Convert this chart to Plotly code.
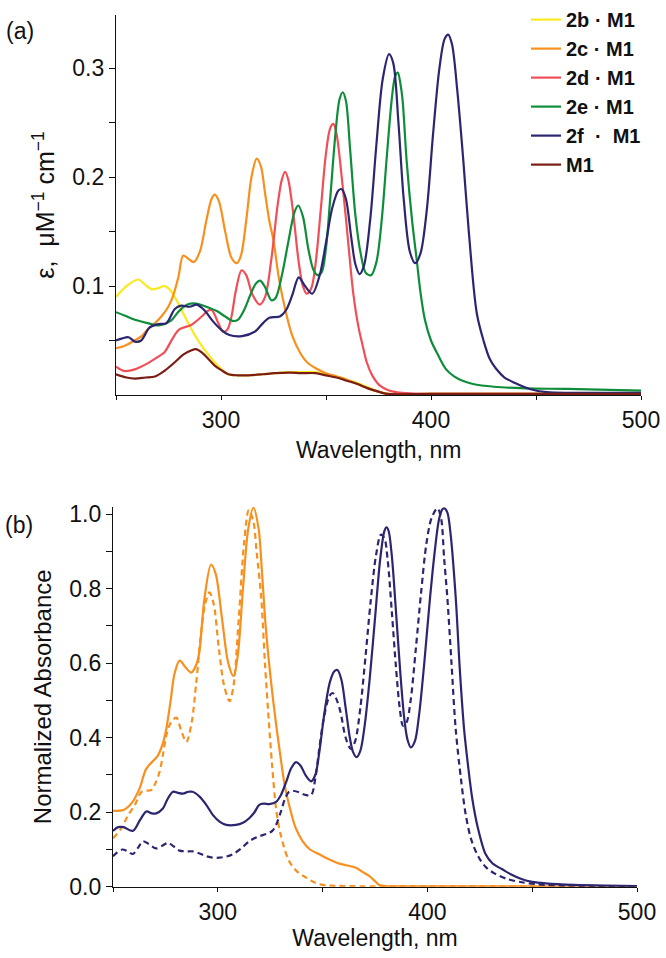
import plotly.graph_objects as go

# ---------------- Panel (a): molar absorptivity ----------------
wl_2b = [250, 255, 260.6, 264, 267, 270, 273.3, 276, 278, 281, 284.4, 287.5, 290.8, 294, 297, 300, 303.5,
         308, 313, 320, 325.6, 333, 338, 345, 350, 355, 360, 365, 370, 375, 380, 400, 500]
eps_2b = [0.090, 0.100, 0.106, 0.101, 0.097, 0.098, 0.100, 0.096, 0.090, 0.079, 0.066, 0.055, 0.045, 0.037,
          0.030, 0.024, 0.019, 0.018, 0.018, 0.019, 0.020, 0.021, 0.021, 0.021, 0.019, 0.017, 0.014, 0.011,
          0.007, 0.003, 0.001, 0.001, 0.001]

wl_2c = [250, 254, 258, 262.2, 265, 268.6, 272, 274.9, 277, 279.7, 282, 284.5, 287, 290, 293, 295.5, 297,
         299, 302, 305, 307.5, 309.5, 312, 314.5, 317, 319, 321, 323, 325, 327.5, 331, 334, 337.6, 341,
         345.5, 350, 355, 360, 365, 370, 375, 380, 400, 500]
eps_2c = [0.043, 0.045, 0.049, 0.054, 0.060, 0.066, 0.073, 0.081, 0.090, 0.108, 0.128, 0.125, 0.122, 0.132,
          0.160, 0.180, 0.184, 0.178, 0.150, 0.126, 0.121, 0.128, 0.160, 0.200, 0.217, 0.210, 0.185, 0.160,
          0.142, 0.108, 0.075, 0.054, 0.039, 0.030, 0.024, 0.020, 0.017, 0.014, 0.010, 0.006, 0.003, 0.001,
          0.001, 0.001]

wl_2d = [250, 254, 259, 265, 270, 273, 277, 280, 286, 290.8, 293.5, 295.6, 298.7, 301, 303, 305, 307, 309.8,
         312, 315, 318.5, 321, 324, 327, 329, 330.5, 332, 334.5, 337, 339, 340.8, 343, 345, 347.5, 350, 352,
         353.5, 355, 356.7, 359.9, 363, 365.4, 367.5, 369.4, 372, 375.7, 380, 384, 390, 400, 500]
eps_2d = [0.026, 0.022, 0.0235, 0.029, 0.035, 0.039, 0.052, 0.060, 0.0645, 0.072, 0.077, 0.078, 0.066, 0.058,
          0.060, 0.072, 0.095, 0.1145, 0.110, 0.092, 0.083, 0.090, 0.125, 0.175, 0.198, 0.205, 0.198, 0.165,
          0.122, 0.100, 0.093, 0.098, 0.120, 0.170, 0.222, 0.245, 0.249, 0.240, 0.2145, 0.154, 0.093, 0.063,
          0.045, 0.030, 0.018, 0.0085, 0.004, 0.0024, 0.0015, 0.001, 0.001]

wl_2e = [250, 254, 259, 265, 271, 276, 280, 284, 288, 293, 298, 302, 305.5, 308, 311, 314, 316.5, 318.6, 321,
         324, 326, 329, 332, 335, 336.8, 339, 341.5, 344, 346, 348, 350, 352, 354.5, 356.5, 358, 359.5, 361.5,
         364, 366.5, 369, 371.5, 374, 376.5, 379, 381.5, 383, 384.2, 385.5, 386.5, 388.4, 391, 393.2, 395,
         397.1, 400, 403, 407, 411, 415, 420, 430, 445, 465, 500]
eps_2e = [0.076, 0.073, 0.069, 0.066, 0.064, 0.068, 0.077, 0.083, 0.084, 0.081, 0.077, 0.072, 0.068, 0.069,
          0.078, 0.092, 0.102, 0.105, 0.099, 0.087, 0.089, 0.110, 0.140, 0.168, 0.174, 0.164, 0.135, 0.115,
          0.110, 0.113, 0.135, 0.180, 0.240, 0.272, 0.278, 0.270, 0.225, 0.165, 0.130, 0.112, 0.110, 0.122,
          0.160, 0.220, 0.275, 0.293, 0.296, 0.285, 0.270, 0.215, 0.160, 0.124, 0.094, 0.069, 0.050, 0.038,
          0.024, 0.017, 0.013, 0.010, 0.0075, 0.006, 0.0055, 0.004]

wl_2f = [250, 253, 256, 259, 262, 266, 270, 274, 278, 281, 285, 288.5, 292, 296, 300, 304, 310, 316, 320, 323,
         328, 331, 334, 337, 340, 343.5, 347, 350, 353, 356, 357.5, 359.5, 362, 364, 366, 368, 371, 374, 377,
         380, 382, 384.5, 387, 390, 392.5, 395, 398, 401, 404, 406.5, 408.2, 410, 412.5, 415.4, 418, 421.8,
         425, 428, 431, 435, 440, 447, 455, 470, 500]
eps_2f = [0.050, 0.052, 0.053, 0.049, 0.050, 0.062, 0.065, 0.066, 0.079, 0.082, 0.081, 0.083, 0.078, 0.068,
          0.060, 0.055, 0.054, 0.058, 0.066, 0.071, 0.072, 0.078, 0.092, 0.108, 0.100, 0.093, 0.110, 0.140,
          0.172, 0.188, 0.189, 0.180, 0.145, 0.120, 0.111, 0.118, 0.160, 0.230, 0.290, 0.313, 0.305, 0.250,
          0.180, 0.131, 0.121, 0.130, 0.170, 0.240, 0.300, 0.327, 0.331, 0.322, 0.280, 0.215, 0.150, 0.075,
          0.050, 0.033, 0.024, 0.016, 0.011, 0.0055, 0.0025, 0.002, 0.002]

wl_m1 = [250, 255, 259, 264, 268.6, 273, 278, 282, 286, 288, 290.8, 294, 297, 300, 303.5, 308, 313, 320,
         325.6, 333, 338, 345, 350, 355, 360, 365, 370, 375, 379, 400, 500]
eps_m1 = [0.019, 0.016, 0.015, 0.016, 0.017, 0.022, 0.030, 0.037, 0.041, 0.042, 0.039, 0.033, 0.027, 0.023,
          0.019, 0.018, 0.018, 0.019, 0.020, 0.0205, 0.020, 0.020, 0.018, 0.016, 0.013, 0.010, 0.006, 0.003,
          0.001, 0.001, 0.001]

# ---------------- Panel (b): normalized absorbance ----------------
wl_c_solid = [250, 255, 259, 262.7, 265.9, 271.4, 273.5, 275.4, 277.5, 279.4, 281.8, 284.5, 287.3, 290, 291.3,
              293.7, 296.8, 299, 302, 305, 307.5, 309.5, 312, 314.5, 317, 319.5, 321, 323, 326, 329.4, 332,
              334, 337, 340.5, 344, 348.4, 353, 358, 362, 365.9, 369, 372.2, 375, 377, 380, 400, 500]
abs_c_solid = [0.204, 0.206, 0.225, 0.264, 0.317, 0.352, 0.380, 0.423, 0.500, 0.573, 0.607, 0.590, 0.575,
               0.600, 0.635, 0.777, 0.865, 0.840, 0.720, 0.600, 0.565, 0.620, 0.800, 0.960, 1.018, 0.960,
               0.850, 0.688, 0.520, 0.370, 0.270, 0.220, 0.160, 0.122, 0.100, 0.087, 0.074, 0.062, 0.057,
               0.051, 0.040, 0.029, 0.015, 0.005, 0.002, 0.001, 0.001]

wl_c_dash = [250, 254, 257, 260.5, 263.7, 268.4, 270, 272.2, 274, 275.4, 277.5, 280.2, 282.5, 285, 287.5, 289.7,
             292, 294, 296, 298, 300.5, 303, 305.6, 307.5, 310, 312.5, 314.8, 317, 318.5, 320.7, 322.5, 324.6,
             326, 327.8, 330, 334, 338, 342, 346, 350, 360, 400, 450, 500]
abs_c_dash = [0.130, 0.157, 0.190, 0.220, 0.255, 0.260, 0.275, 0.308, 0.360, 0.405, 0.440, 0.454, 0.420,
              0.389, 0.440, 0.547, 0.680, 0.760, 0.790, 0.760, 0.640, 0.540, 0.498, 0.540, 0.720, 0.920,
              1.011, 0.980, 0.900, 0.777, 0.600, 0.423, 0.320, 0.210, 0.140, 0.069, 0.040, 0.025, 0.012,
              0.005, 0.002, 0.001, 0.001, 0.001]

wl_f_solid = [250, 252.5, 255, 259.5, 263, 265.9, 268.5, 270.6, 273.8, 276, 278.6, 281, 283.3, 286, 288, 291.3,
              294.5, 297.6, 301, 304, 308.7, 312, 315, 317.5, 319.8, 322, 324.6, 327.8, 330, 332.6, 335, 337.3,
              339.5, 342, 344.5, 346.5, 348.4, 350, 351.6, 353.5, 355.5, 357.1, 359, 361, 363, 364.5, 366.2,
              368, 370, 372.5, 375, 377.5, 379.5, 380.5, 381.5, 383, 385, 387, 389, 390.5, 392.1, 394, 396,
              398.5, 401, 403.5, 405.5, 407, 408, 409.5, 411, 413.5, 415.5, 417.5, 419.5, 421.4, 424, 427.8,
              431, 435.7, 440, 445.2, 450, 456.4, 470, 485, 500]
abs_f_solid = [0.150, 0.160, 0.160, 0.150, 0.180, 0.202, 0.197, 0.197, 0.210, 0.235, 0.255, 0.252, 0.250,
               0.255, 0.255, 0.242, 0.220, 0.193, 0.174, 0.166, 0.166, 0.172, 0.184, 0.200, 0.220, 0.223,
               0.222, 0.228, 0.245, 0.281, 0.318, 0.3345, 0.325, 0.298, 0.283, 0.300, 0.360, 0.430, 0.494,
               0.550, 0.578, 0.582, 0.555, 0.480, 0.400, 0.362, 0.348, 0.365, 0.430, 0.560, 0.720, 0.880,
               0.955, 0.965, 0.955, 0.890, 0.740, 0.580, 0.450, 0.395, 0.374, 0.390, 0.460, 0.600, 0.760,
               0.900, 0.985, 1.012, 1.016, 1.005, 0.950, 0.777, 0.580, 0.423, 0.320, 0.237, 0.160, 0.087,
               0.063, 0.047, 0.033, 0.020, 0.013, 0.009, 0.005, 0.003, 0.002]

wl_f_dash = [250, 252, 254.5, 257, 259.5, 262, 264.3, 267, 270.6, 273.5, 276.2, 279, 281.7, 285, 288, 291,
             294.4, 297.5, 300.7, 304, 307, 311, 315, 319, 323, 326, 327.8, 330, 332, 334, 336.5, 339, 341.5,
             344.5, 346.5, 348.4, 350.5, 353.2, 354.8, 356.5, 358.5, 361, 363.5, 365.5, 368, 370.5, 373,
             375.5, 377.8, 379.5, 381, 383, 385, 386.8, 388.4, 390, 392, 394.5, 397, 399.5, 402, 404.8, 406.5,
             408, 409.5, 411.5, 413.5, 416, 418.3, 421, 424.6, 428, 432.6, 438, 445, 452, 460, 480, 500]
abs_f_dash = [0.082, 0.092, 0.100, 0.095, 0.088, 0.105, 0.122, 0.115, 0.103, 0.110, 0.118, 0.108, 0.097,
              0.095, 0.095, 0.090, 0.082, 0.078, 0.078, 0.081, 0.087, 0.102, 0.122, 0.134, 0.1415, 0.150,
              0.166, 0.200, 0.235, 0.255, 0.257, 0.253, 0.247, 0.246, 0.290, 0.370, 0.450, 0.511, 0.520,
              0.505, 0.470, 0.400, 0.370, 0.390, 0.480, 0.620, 0.770, 0.890, 0.945, 0.935, 0.880, 0.740,
              0.590, 0.480, 0.432, 0.440, 0.500, 0.640, 0.790, 0.920, 0.990, 1.016, 0.990, 0.880, 0.777,
              0.600, 0.423, 0.290, 0.193, 0.125, 0.078, 0.052, 0.034, 0.021, 0.012, 0.007, 0.004, 0.002, 0.001]

legend_names = ["2b · M1", "2c · M1", "2d · M1", "2e · M1", "2f  ·  M1", "M1"]
x_ticks = [300, 400, 500]
x_minor = [250, 350, 450]

C_Y = "#F8EA1F"
C_O = "#F7901E"
C_R = "#F04F58"
C_G = "#0F8D3B"
C_B = "#2C2670"
C_M = "#7A1D14"

FONT = "Arial, Liberation Sans, sans-serif"
FS = 23
W, H = 666, 958

fig = go.Figure()

series_a = [(wl_2b, eps_2b, C_Y), (wl_2c, eps_2c, C_O), (wl_2d, eps_2d, C_R),
            (wl_2e, eps_2e, C_G), (wl_2f, eps_2f, C_B), (wl_m1, eps_m1, C_M)]
for i, (xs, ys, c) in enumerate(series_a):
    fig.add_trace(go.Scatter(x=xs, y=ys, mode="lines", name="<b>%s</b>" % legend_names[i],
                             legendgroup="g%d" % i,
                             line=dict(color=c, width=2.2, shape="spline", smoothing=0.9),
                             xaxis="x", yaxis="y"))

series_b = [(wl_c_solid, abs_c_solid, C_O, "solid"), (wl_c_dash, abs_c_dash, C_O, "6px,4px"),
            (wl_f_solid, abs_f_solid, C_B, "solid"), (wl_f_dash, abs_f_dash, C_B, "6px,4px")]
for xs, ys, c, d in series_b:
    fig.add_trace(go.Scatter(x=xs, y=ys, mode="lines", showlegend=False,
                             line=dict(color=c, width=2.2, dash=d, shape="spline", smoothing=0.9),
                             xaxis="x2", yaxis="y2"))

minor_y = dict(ticks="outside", ticklen=6, tickwidth=1.3, tickcolor="#111")
minor_x = dict(ticks="outside", ticklen=4, tickwidth=1.3, tickcolor="#111")
axis_common = dict(showline=True, linecolor="#111", linewidth=1.3, showgrid=False, zeroline=False,
                   ticks="outside", ticklen=6, tickwidth=1.3, tickcolor="#111",
                   tickfont=dict(family=FONT, size=FS, color="#111"), automargin=False, mirror=False)
title_font = dict(family=FONT, size=FS, color="#111")


def px_x(a, b):
    return [a / W, b / W]


def px_y(top, bottom):
    return [1 - bottom / H, 1 - top / H]


fig.update_layout(
    width=W, height=H,
    margin=dict(l=0, r=0, t=0, b=0),
    paper_bgcolor="white", plot_bgcolor="white",
    font=dict(family=FONT, color="#111"),
    xaxis=dict(axis_common, domain=px_x(116, 641), anchor="y", range=[250, 500], ticklen=4,
               tickvals=x_ticks, minor=dict(minor_x, tickvals=x_minor)),
    yaxis=dict(axis_common, domain=px_y(5, 389), anchor="x", range=[0, 0.349],
               tickvals=[0.1, 0.2, 0.3], tickformat=".1f",
               minor=dict(minor_y, tickvals=[0.05, 0.15, 0.25]),
               title=dict(text="ε,&nbsp; μM<sup>−1</sup>&nbsp;cm<sup>−1</sup>",
                          font=dict(family=FONT, size=25, color="#111"), standoff=10)),
    xaxis2=dict(axis_common, domain=px_x(113, 637), anchor="y2", range=[250, 500], ticklen=4,
                tickvals=x_ticks, minor=dict(minor_x, tickvals=x_minor),
                title=dict(text="Wavelength, nm", font=title_font, standoff=6)),
    yaxis2=dict(axis_common, domain=px_y(502, 886), anchor="x2", range=[0, 1.02],
                tickvals=[0, 0.2, 0.4, 0.6, 0.8, 1.0], tickformat=".1f",
                minor=dict(minor_y, tickvals=[0.1, 0.3, 0.5, 0.7, 0.9]),
                title=dict(text="Normalized Absorbance", font=dict(family=FONT, size=24, color="#111"),
                           standoff=10)),
    legend=dict(x=526 / W, y=1 + 10 / H, xanchor="left", yanchor="top", bgcolor="rgba(0,0,0,0)",
                font=dict(family=FONT, size=20, color="#111"), tracegroupgap=0, itemwidth=30),
    annotations=[
        dict(text="Wavelength, nm", x=(116 + 641) / 2 / W, y=1 - 445 / H, xref="paper", yref="paper",
             xanchor="center", yanchor="middle", showarrow=False, font=title_font),
        dict(text="(a)", x=4 / W, y=1 - 21 / H, xref="paper", yref="paper", xanchor="left", yanchor="middle",
             showarrow=False, font=dict(family=FONT, size=FS, color="#111")),
        dict(text="(b)", x=3 / W, y=1 - 520 / H, xref="paper", yref="paper", xanchor="left", yanchor="middle",
             showarrow=False, font=dict(family=FONT, size=FS, color="#111")),
    ],
)

fig.write_html("out.html", config={"displayModeBar": False},
               post_script="document.body.style.margin='0';document.body.style.overflow='hidden';")
